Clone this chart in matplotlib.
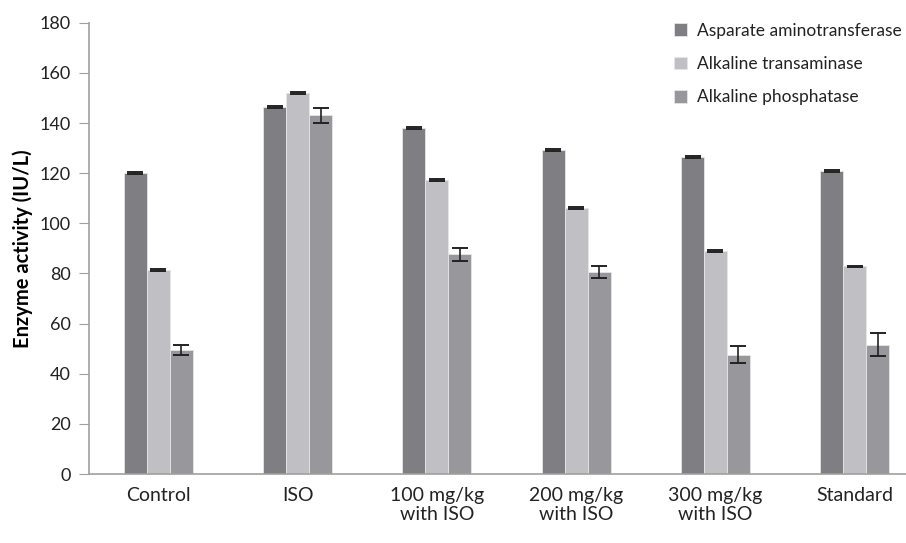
import numpy as np
import matplotlib.pyplot as plt

plt.rcParams['font.family'] = ['Lato', 'DejaVu Sans']

groups = ['Control', 'ISO', '100 mg/kg\nwith ISO', '200 mg/kg\nwith ISO', '300 mg/kg\nwith ISO', 'Standard']
series = ['Asparate aminotransferase', 'Alkaline transaminase', 'Alkaline phosphatase']
ast = [120.1, 146.5, 138.2, 129.1, 126.4, 121.0]
alt = [81.2, 152.0, 117.4, 106.2, 88.9, 82.8]
alp = [49.3, 143.1, 87.6, 80.6, 47.6, 51.6]
ast_err = [0.4, 0.4, 0.4, 0.4, 0.4, 0.4]
alt_err = [0.4, 0.4, 0.4, 0.4, 0.4, 0.2]
alp_err = [2.0, 3.0, 2.5, 2.5, 3.5, 4.5]

colors = ['#7e7e83', '#c0c0c4', '#98989c']
values = [ast, alt, alp]
errors = [ast_err, alt_err, alp_err]

fig = plt.figure(figsize=(9.06, 5.43), dpi=100)
ax = fig.add_axes([0.098, 0.127, 0.91, 0.831])

x = np.arange(len(groups))
w = 0.165
for k in range(3):
    ax.bar(x + (k - 1) * w, values[k], w, color=colors[k], edgecolor='#e6e6e6', linewidth=0.6,
           yerr=errors[k], error_kw=dict(ecolor='#222222', capsize=5.5, elinewidth=1.2, capthick=1.4),
           label=series[k], zorder=2)

ax.set_ylim(0, 180)
ax.set_yticks(np.arange(0, 181, 20))
ax.set_xlim(-0.5, 5.42)
ax.set_xticks(x)
ax.set_xticklabels(groups, fontsize=14, color='#222222')
ax.tick_params(axis='x', length=0, pad=9)
ax.tick_params(axis='y', labelsize=13, labelcolor='#222222', length=7, color='#a0a0a0',
               direction='out', pad=6)
for s in ['top', 'right']:
    ax.spines[s].set_visible(False)
for s in ['left', 'bottom']:
    ax.spines[s].set_color('#a0a0a0')
    ax.spines[s].set_linewidth(1.2)

ax.set_ylabel('Enzyme activity (IU/L)', fontsize=14.5, fontweight='bold', labelpad=5)
ax.legend(loc='upper right', bbox_to_anchor=(1.005, 1.035), frameon=False, fontsize=12.5,
          handlelength=0.75, handleheight=0.75, handletextpad=0.6, labelspacing=1.0,
          labelcolor='#222222')

plt.savefig('out.png', dpi=100)
plt.close()
